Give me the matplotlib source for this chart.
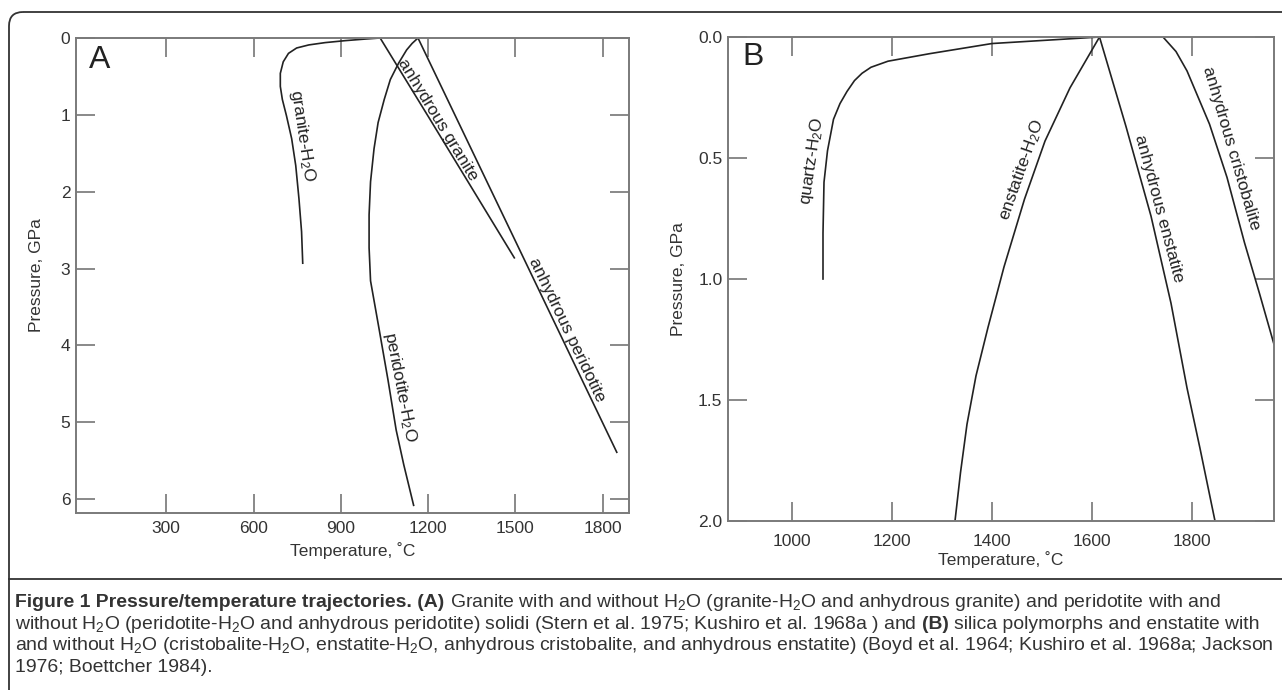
import math
import matplotlib
matplotlib.use('Agg')
from matplotlib import pyplot as plt
from matplotlib.patches import FancyBboxPatch
from matplotlib.lines import Line2D
from matplotlib.ticker import FormatStrFormatter
from matplotlib.transforms import Affine2D

plt.rcParams['font.family'] = ['Liberation Sans', 'DejaVu Sans']
plt.rcParams['mathtext.fontset'] = 'custom'
plt.rcParams['mathtext.rm'] = 'Liberation Sans'
plt.rcParams['mathtext.it'] = 'Liberation Sans:italic'
plt.rcParams['mathtext.bf'] = 'Liberation Sans:bold'

# ---- panel A: granite / peridotite solidi (T in C, P in GPa)
granite_h2o_t = [1035, 986, 916, 846, 790, 748, 720, 702, 692, 692, 699, 713, 731, 745, 756, 765, 769]
granite_h2o_p = [0, 0.013, 0.034, 0.06, 0.09, 0.13, 0.20, 0.31, 0.46, 0.63, 0.80, 1.01, 1.31, 1.66, 2.09, 2.52, 2.93]
anh_granite_t = [1035, 1205, 1496]
anh_granite_p = [0, 1.05, 2.86]
perid_h2o_t = [1165, 1145, 1126, 1098, 1070, 1049, 1028, 1014, 1002, 997, 997, 1002, 1032, 1062, 1090, 1116, 1150]
perid_h2o_p = [0, 0.07, 0.155, 0.33, 0.54, 0.80, 1.10, 1.44, 1.87, 2.30, 2.73, 3.16, 3.80, 4.45, 5.10, 5.55, 6.08]
anh_perid_t = [1165, 1848]
anh_perid_p = [0, 5.39]

# ---- panel B: silica polymorphs / enstatite
quartz_h2o_t = [1615, 1400, 1275, 1192, 1158, 1140, 1125, 1110, 1096, 1083, 1071, 1064, 1062, 1062]
quartz_h2o_p = [0, 0.027, 0.069, 0.10, 0.125, 0.15, 0.18, 0.225, 0.275, 0.34, 0.47, 0.60, 0.81, 1.0]
enst_h2o_t = [1615, 1556, 1506, 1465, 1424, 1392, 1368, 1350, 1337, 1326]
enst_h2o_p = [0, 0.21, 0.43, 0.67, 0.95, 1.2, 1.4, 1.6, 1.8, 2.0]
anh_enst_t = [1615, 1668, 1718, 1758, 1790, 1816, 1846]
anh_enst_p = [0, 0.37, 0.74, 1.1, 1.45, 1.7, 2.0]
anh_crist_t = [1615, 1742, 1768, 1790, 1835, 1870, 1905, 1935, 1964]
anh_crist_p = [0, 0, 0.06, 0.14, 0.36, 0.58, 0.85, 1.06, 1.27]

ticks_a_x = [300, 600, 900, 1200, 1500, 1800]
ticks_a_y = [0, 1, 2, 3, 4, 5, 6]
ticks_b_x = [1000, 1200, 1400, 1600, 1800]
ticks_b_y = [0.0, 0.5, 1.0, 1.5, 2.0]

W, H = 1282, 690
fig = plt.figure(figsize=(W / 100, H / 100), dpi=100)
axA = fig.add_axes([76 / W, 1 - 513 / H, 553 / W, 475 / H])
axB = fig.add_axes([728 / W, 1 - 521 / H, 546 / W, 484 / H])

INK = '#222222'
TXT = '#333333'


def style(ax):
    for s in ax.spines.values():
        s.set_color('#7a7a7a')
        s.set_linewidth(1.4)
    ax.tick_params(direction='in', length=14, width=1.1, color='#6a6a6a',
                   top=True, right=True, labelsize=12.5, labelcolor=TXT)
    ax.tick_params(axis='x', pad=6)
    ax.tick_params(axis='y', pad=4)
    ax.set_xlabel('Temperature, ˚C', fontsize=12.5, color=TXT, labelpad=4)
    ax.set_ylabel('Pressure, GPa', fontsize=12.5, color=TXT, labelpad=12)


lw = 1.2
axA.plot(granite_h2o_t, granite_h2o_p, color=INK, lw=lw)
axA.plot(anh_granite_t, anh_granite_p, color=INK, lw=lw)
axA.plot(perid_h2o_t, perid_h2o_p, color=INK, lw=lw)
axA.plot(anh_perid_t, anh_perid_p, color=INK, lw=lw)
axA.set_xlim(-10, 1890)
axA.set_ylim(6.18, 0)
axA.set_xticks(ticks_a_x)
axA.set_yticks(ticks_a_y)
style(axA)

axB.plot(quartz_h2o_t, quartz_h2o_p, color=INK, lw=lw)
axB.plot(enst_h2o_t, enst_h2o_p, color=INK, lw=lw)
axB.plot(anh_enst_t, anh_enst_p, color=INK, lw=lw)
axB.plot(anh_crist_t, anh_crist_p, color=INK, lw=lw)
axB.set_xlim(872, 1964)
axB.set_ylim(2.0, 0.0)
axB.set_xticks(ticks_b_x)
axB.set_yticks(ticks_b_y)
axB.yaxis.set_major_formatter(FormatStrFormatter('%.1f'))
style(axB)
axB.tick_params(axis='x', pad=9)
axB.xaxis.labelpad = 2
axB.yaxis.labelpad = 9


def angle(ax, p1, p2):
    a = ax.transData.transform(p1)
    b = ax.transData.transform(p2)
    return math.degrees(math.atan2(b[1] - a[1], b[0] - a[0]))


def label(ax, x, y, s, p1, p2):
    ax.text(x, y, s, rotation=angle(ax, p1, p2), rotation_mode='anchor',
            ha='center', va='center', fontsize=12.5, color=INK)


label(axA, 769, 1.27, 'granite-H$_2$O', (713, 1.01), (756, 2.09))
label(axA, 1233, 1.06, 'anhydrous granite', (1035, 0), (1496, 2.86))
label(axA, 1677, 3.80, 'anhydrous peridotite', (1165, 0), (1848, 5.39))
label(axA, 1103, 4.54, 'peridotite-H$_2$O', (1032, 3.8), (1150, 6.08))
axA.text(72, 0.29, 'A', fontsize=23, color=INK, ha='center', va='center')

label(axB, 1040, 0.51, 'quartz-H$_2$O', (1064, 0.60), (1083, 0.33))
label(axB, 1460, 0.55, 'enstatite-H$_2$O', (1465, 0.67), (1506, 0.43))
label(axB, 1733, 0.71, 'anhydrous enstatite', (1615, 0), (1758, 1.1))
label(axB, 1878, 0.46, 'anhydrous cristobalite', (1835, 0.36), (1905, 0.85))
axB.text(922, 0.083, 'B', fontsize=23, color=INK, ha='center', va='center')

# frame around the figure and the caption
px = Affine2D().scale(1 / W, -1 / H).translate(0, 1) + fig.transFigure
fig.add_artist(FancyBboxPatch((9, 12), 1400, 1000, boxstyle='round,pad=0,rounding_size=14',
                              transform=px, fill=False, ec='#333333', lw=1.3, clip_on=False))
fig.add_artist(Line2D([9, 1300], [579, 579], transform=px, color='#333333', lw=1.3))

# caption
cap_lines = [
    [('Figure 1 Pressure/temperature trajectories. (A)', True),
     ('Granite with and without H$_2$O (granite-H$_2$O and anhydrous granite) and peridotite with and', False)],
    [('without H$_2$O (peridotite-H$_2$O and anhydrous peridotite) solidi (Stern et al. 1975; Kushiro et al. 1968a ) and', False),
     ('(B)', True), ('silica polymorphs and enstatite with', False)],
    [('and without H$_2$O (cristobalite-H$_2$O, enstatite-H$_2$O, anhydrous cristobalite, and anhydrous enstatite) (Boyd et al. 1964; Kushiro et al. 1968a; Jackson', False)],
    [('1976; Boettcher 1984).', False)],
]
cap_y = [607, 629, 650, 672]
cap_font = ['Liberation Sans Narrow', 'Liberation Sans', 'DejaVu Sans']

fig.canvas.draw()
rend = fig.canvas.get_renderer()


def width(s, size, bold):
    t = fig.text(0, 0, s, fontsize=size, fontweight='bold' if bold else 'normal', family=cap_font)
    w = t.get_window_extent(rend).width
    t.remove()
    return w


def write_line(y, parts, size, draw=True):
    x = 15
    for i, (s, bold) in enumerate(parts):
        if i > 0:
            x += width('n n', size, bold) - width('nn', size, bold)
        if draw:
            fig.text(x / W, 1 - y / H, s, fontsize=size, fontweight='bold' if bold else 'normal',
                     family=cap_font, color=TXT, va='baseline', ha='left')
        x += width(s, size, bold)
    return x


trial = 12.0
end3 = write_line(cap_y[2], cap_lines[2], trial, draw=False)
size = trial * (1272 - 15) / (end3 - 15)
for y, parts in zip(cap_y, cap_lines):
    write_line(y, parts, size)

fig.savefig('out.png', dpi=100)
